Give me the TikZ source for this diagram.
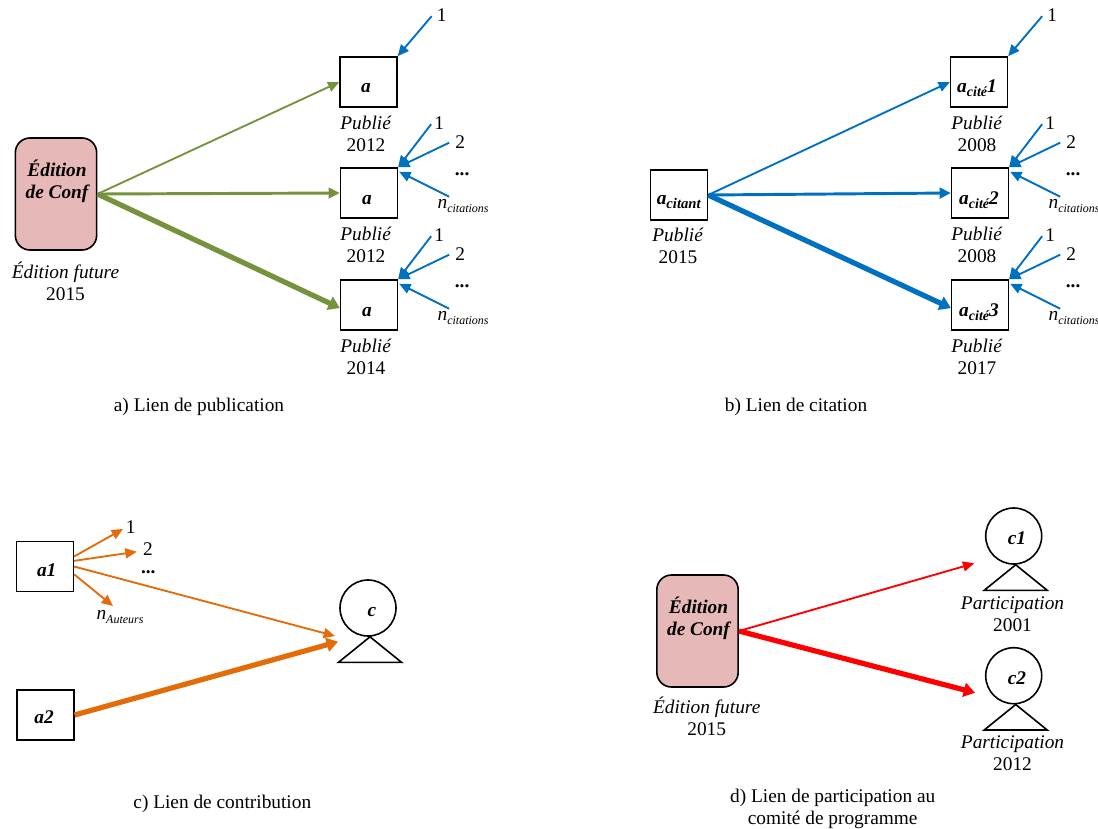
\documentclass[tikz,border=0pt]{standalone}
\usepackage{fontspec}
\setmainfont{Liberation Serif}
\usetikzlibrary{arrows.meta, calc}

\definecolor{vertlien}{HTML}{76923C}
\definecolor{bleulien}{HTML}{0070C0}
\definecolor{orangelien}{HTML}{E36C09}
\definecolor{rougelien}{HTML}{FF0000}
\definecolor{roseconf}{HTML}{E6B8B7}
\newcommand{\sousind}[2][9]{\raisebox{-3pt}{\fontsize{#1}{#1}\selectfont #2}}
\newcommand{\gi}{\bfseries\itshape}

\begin{document}
\begin{tikzpicture}[x=0.75pt, y=-0.75pt, inner sep=1pt,
    font=\fontsize{14.5}{16.5}\selectfont, text=black,
    texte/.style={align=center},
    nom/.style={align=center, font=\fontsize{14.5}{16.5}\selectfont\gi},
    boite/.style={draw, line width=1.2pt, minimum width=42.5pt, minimum height=37.5pt},
    conf/.style={draw, line width=1.2pt, fill=roseconf, rounded corners=11pt, minimum width=61pt, minimum height=84pt},
    tete/.style={draw, line width=1.2pt, circle, minimum size=42pt},
    fin/.style={line width=1.4pt, -{Stealth[inset=0pt, length=8.5pt, width=7.5pt]}},
    moyen/.style={line width=2.2pt, -{Stealth[inset=0pt, length=8.5pt, width=8pt]}},
    fort/.style={line width=3.9pt, -{Stealth[inset=0pt, length=8.5pt, width=10.5pt]}}]
    \useasboundingbox (0,0) rectangle (1098,828);

    % a) publication
    \node [conf] (confa) at (56,194) {};
    \node [nom] (confanom) at (57,181) {Édition\\de Conf};
    \node [texte] (confatxt) at (65.5,281) {\textit{Édition future}\\2015};
    \node [boite] (a1) at (368.5,82) {};
    \node [boite] (a2) at (369,193) {};
    \node [boite] (a3) at (369,305) {};
    \node [nom] (a1nom) at (366,88) {a};
    \node [nom] (a2nom) at (367,200) {a};
    \node [nom] (a3nom) at (367,312) {a};
    \node [texte] (a1txt) at (366,133.5) {\textit{Publié}\\2012};
    \node [texte] (a2txt) at (366,245) {\textit{Publié}\\2012};
    \node [texte] (a3txt) at (366,357) {\textit{Publié}\\2014};
    \draw [vertlien, fin] (confa.east) -- (a1.west);
    \draw [vertlien, moyen] (confa.east) -- (a2.west);
    \draw [vertlien, fort] (confa.east) -- (a3.186);
    \node [texte] (lega) at (199,407) {a) Lien de publication};

    % b) citation
    \node [boite] (acitant) at (679,195) {};
    \node [nom] (acitantnom) at (678.7,202) {a\sousind[11]{citant}};
    \node [texte] (acitanttxt) at (678,245.5) {\textit{Publié}\\2015};
    \node [boite] (b1) at (979,82) {};
    \node [boite] (b2) at (980,193) {};
    \node [boite] (b3) at (980,305) {};
    \node [nom] (b1nom) at (977,88) {a\sousind[10.5]{cité}1};
    \node [nom] (b2nom) at (979,200) {a\sousind[10.5]{cité}2};
    \node [nom] (b3nom) at (979,312) {a\sousind[10.5]{cité}3};
    \node [texte] (b1txt) at (977,133.5) {\textit{Publié}\\2008};
    \node [texte] (b2txt) at (977,245) {\textit{Publié}\\2008};
    \node [texte] (b3txt) at (977,357) {\textit{Publié}\\2017};
    \draw [bleulien, fin] (acitant.east) -- (b1.west);
    \draw [bleulien, moyen] (acitant.east) -- (b2.west);
    \draw [bleulien, fort] (acitant.east) -- (b3.186);
    \node [texte] (legb) at (796,407) {b) Lien de citation};

    % citations recues
    \foreach \b in {a1, b1} {
        \coordinate (\b-d) at ($(\b.north east)+(34,-40)$);
        \node (\b-un) at ($(\b.north east)+(44,-41)$) {1};
        \draw [bleulien, fin] (\b-d) -- (\b.north east);
    }
    \foreach \b in {a2, a3, b2, b3} {
        \coordinate (\b-d1) at ($(\b.north east)+(33,-43)$);
        \coordinate (\b-d2) at ($(\b.north east)+(51,-24.5)$);
        \coordinate (\b-dn) at ($(\b.north east)+(51,29.5)$);
        \coordinate (\b-fn) at ($(\b.north east)+(1,4.5)$);
        \node (\b-un) at ($(\b.north east)+(41,-44)$) {1};
        \node (\b-deux) at ($(\b.north east)+(62,-25.5)$) {2};
        \node (\b-pts) at ($(\b.north east)+(64,7)$) {\textbf{...}};
        \node (\b-n) at ($(\b.north east)+(65,39)$) {\textit{n\sousind{citations}}};
        \draw [bleulien, fin] (\b-d1) -- (\b.north east);
        \draw [bleulien, fin] (\b-d2) -- (\b.north east);
        \draw [bleulien, fin] (\b-dn) -- (\b-fn);
    }

    % c) contribution
    \node [boite] (ca1) at (45,566.5) {};
    \node [boite] (ca2) at (45.5,715) {};
    \node [nom] (ca1nom) at (46.7,570) {a1};
    \node [nom] (ca2nom) at (44,716.7) {a2};
    \node [tete] (cc) at (368,608) {};
    \node [nom] (ccnom) at (372,611.7) {c};
    \draw [line width=1.2pt] ($(cc.south)+(2,0)$) -- ++(-31.5,25.5) -- ++(63,0) -- cycle;
    \coordinate (cf1) at (335,636);
    \coordinate (cf2) at (338,641.7);
    \node (cun) at (130.7,527) {1};
    \node (cdeux) at (148,549) {2};
    \node (cpts) at (148.3,572) {\textbf{...}};
    \node (cn) at (120,617) {\textit{n\sousind{Auteurs}}};
    \coordinate (cd1) at (123,529);
    \coordinate (cd2) at (136.7,551.7);
    \coordinate (cdn) at (113,606);
    \draw [orangelien, fin] (ca1.19) -- (cd1);
    \draw [orangelien, fin] (ca1.11) -- (cd2);
    \draw [orangelien, fin] (ca1.east) -- (cf1);
    \draw [orangelien, fin] (ca1.345) -- (cdn);
    \draw [orangelien, fort] (ca2.east) -- (cf2);
    \node [texte] (legc) at (222.3,803.7) {c) Lien de contribution};

    % d) participation
    \node [conf] (confd) at (697.5,631) {};
    \node [nom] (confdnom) at (698.5,618) {Édition\\de Conf};
    \node [texte] (confdtxt) at (706.7,716.5) {\textit{Édition future}\\2015};
    \node [tete] (c1) at (1013.7,536) {};
    \node [tete] (c2) at (1013.7,675.7) {};
    \node [nom] (c1nom) at (1017,538) {c1};
    \node [nom] (c2nom) at (1017,678) {c2};
    \draw [line width=1.2pt] ($(c1.south)+(2,0)$) -- ++(-31.5,25.5) -- ++(63,0) -- cycle;
    \draw [line width=1.2pt] ($(c2.south)+(2,0)$) -- ++(-31.5,25.5) -- ++(63,0) -- cycle;
    \node [texte] (c1txt) at (1012.5,614) {\textit{Participation}\\2001};
    \node [texte] (c2txt) at (1012.5,753) {\textit{Participation}\\2012};
    \coordinate (df1) at (974.3,563.3);
    \coordinate (df2) at (975,692.7);
    \draw [rougelien, fin] (confd.east) -- (df1);
    \draw [rougelien, fort] (confd.east) -- (df2);
    \node [texte] (legd) at (832.7,809) {d) Lien de participation au\\comité de programme};
\end{tikzpicture}
\end{document}
